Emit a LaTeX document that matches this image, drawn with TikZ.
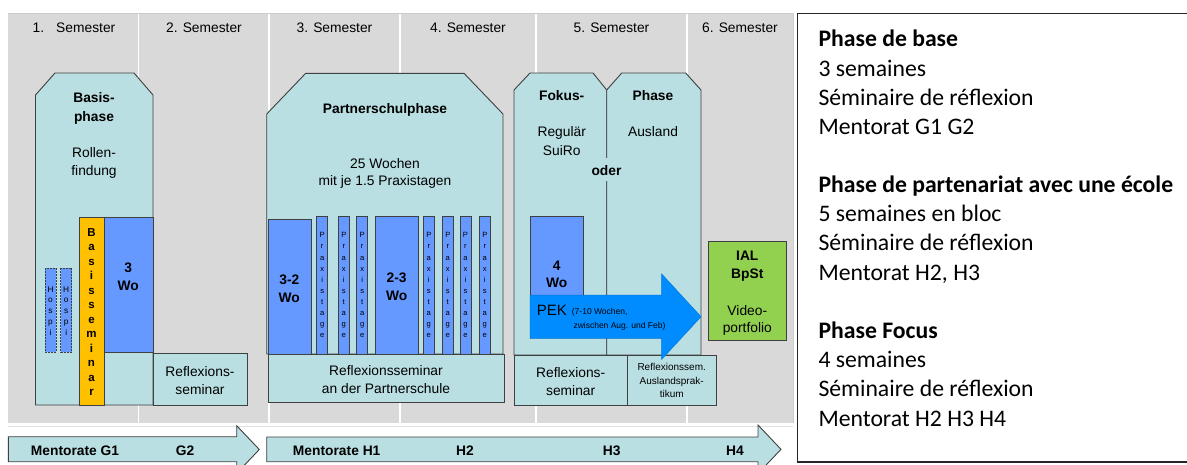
\documentclass[tikz,border=0pt]{standalone}
\usepackage{fontspec}
\setmainfont{Liberation Sans}
\newfontfamily\calfont{Carlito}
\definecolor{bgc}{HTML}{D9D9D9}
\definecolor{cyanc}{HTML}{B9DFE2}
\definecolor{bluec}{HTML}{6699FF}
\definecolor{orc}{HTML}{FFC000}
\definecolor{pekc}{HTML}{008CFF}
\definecolor{grc}{HTML}{92D050}
\definecolor{bord}{HTML}{404040}
\begin{document}
\begin{tikzpicture}[x=1pt,y=-1pt,
  bd/.style={draw=bord, line width=0.9pt},
  cy/.style={bd, fill=cyanc},
  bl/.style={bd, fill=bluec},
  hosp/.style={draw=bord, line width=0.8pt, dashed, dash pattern=on 2pt off 1pt, fill=bluec},
  txt/.style={inner sep=0pt, anchor=base, font=\fontsize{13.8}{16}\selectfont},
  btxt/.style={inner sep=0pt, anchor=base, font=\fontsize{13.8}{16}\selectfont\bfseries},
  ltr/.style={inner sep=0pt, anchor=base, font=\fontsize{7.6}{9}\selectfont},
  hltr/.style={inner sep=0pt, anchor=base, font=\fontsize{8.3}{9}\selectfont},
  bltr/.style={inner sep=0pt, anchor=base, font=\fontsize{11.5}{13}\selectfont\bfseries},
  rtxt/.style={inner sep=0pt, anchor=base west, font=\calfont\fontsize{23.7}{28}\selectfont},
  rbtxt/.style={inner sep=0pt, anchor=base west, font=\calfont\fontsize{23.7}{28}\selectfont\bfseries},
  sep/.style={draw=white, line width=1.3pt}]
\clip (0,0) rectangle (1187,464);
\fill[white] (0,0) rectangle (1187,464);
% background
\fill[bgc] (8,14) rectangle (793,423);
\draw[draw=black!20, line width=0.8pt] (8,13.5) -- (793,13.5) -- (793,423);
\draw[draw=black!12, line width=0.8pt] (8,426) -- (793,426);
\foreach \x in {138.5,269,400,536,687} \draw[sep] (\x,14) -- (\x,423);
% semester labels
\node[txt] (s1) at (74,32.7) {1.\hspace{12pt}Semester};
\node[txt] (s2) at (204,32.7) {2. Semester};
\node[txt] (s3) at (334.5,32.7) {3. Semester};
\node[txt] (s4) at (468,32.7) {4. Semester};
\node[txt] (s5) at (611.5,32.7) {5. Semester};
\node[txt] (s6) at (740,32.7) {6. Semester};
% ---------- Basisphase
\draw[cy] (35.5,95) -- (55,73) -- (134,73) -- (153,95) -- (153,405) -- (35.5,405) -- cycle;
\draw[bd, fill=orc] (79,217) rectangle (104,405);
\draw[bl] (104,217) rectangle (153,352);
\draw[cy] (153,353) rectangle (247,405);
\draw[hosp] (45,268) rectangle (56,352);
\draw[hosp] (60.7,268) rectangle (71.7,352);
\node[btxt] (bp1) at (94,102.7) {Basis-};
\node[btxt] (bp2) at (94,121) {phase};
\node[txt] (rf1) at (94,157.7) {Rollen-};
\node[txt] (rf2) at (94,175.5) {findung};
\foreach \c [count=\k] in {H,o,s,p,i}{
  \node[hltr] (ha\k) at (50.5,292+\k*10.9-10.9) {\c};
  \node[hltr] (hb\k) at (66.2,292+\k*10.9-10.9) {\c};
}
\foreach \c [count=\k] in {B,a,s,i,s,s,e,m,i,n,a,r}
  \node[bltr] (bs\k) at (91.5,236+\k*14.5-14.5) {\c};
\node[btxt] (w31) at (128.3,272.3) {3};
\node[btxt] (w32) at (128.3,290.7) {Wo};
\node[txt] (rb1) at (200,376) {Reflexions-};
\node[txt] (rb2) at (200,394) {seminar};
% ---------- Partnerschulphase
\draw[cy] (266.7,114) -- (305.7,73.3) -- (464,73.3) -- (503,114) -- (503,354) -- (266.7,354) -- cycle;
\draw[cy] (268,354) rectangle (504,402);
\draw[bl] (268,219) rectangle (311,354);
\draw[bl] (375.3,216) rectangle (418.7,354);
\foreach \x [count=\i] in {316.7,338.3,356.7,423.3,442.3,460,479.3}{
  \draw[bl] (\x,216) rectangle ++(11,138);
  \foreach \c [count=\k] in {P,r,a,x,i,s,t,a,g,e}
    \node[ltr] (pt\i-\k) at (\x+5.5,237.8+\k*11.1-11.1) {\c};
}
\node[btxt] (ps) at (385,113.3) {Partnerschulphase};
\node[txt] (pw1) at (385,168.3) {25 Wochen};
\node[txt] (pw2) at (385,185.7) {mit je 1.5 Praxistagen};
\node[btxt] (w321) at (289.3,284) {3-2};
\node[btxt] (w322) at (289.3,302.3) {Wo};
\node[btxt] (w231) at (396.7,282.7) {2-3};
\node[btxt] (w232) at (396.7,300.7) {Wo};
\node[txt] (rp1) at (386,375.7) {Reflexionsseminar};
\node[txt] (rp2) at (386,393.3) {an der Partnerschule};
% ---------- Fokusphase
\draw[cy] (514,90) -- (530,73) -- (593,73) -- (606.7,90) -- (606.7,355) -- (514,355) -- cycle;
\draw[cy] (606.7,90) -- (621.7,73) -- (685.7,73) -- (701,90) -- (701,355) -- (606.7,355) -- cycle;
\fill[cyanc] (600,158) rectangle (613,181);
\node[btxt] (oder) at (606.5,175) {oder};
\draw[cy] (514,355) rectangle (627.7,405);
\draw[cy] (627.7,355) rectangle (716,405);
\draw[bl] (530,216.7) rectangle (583.3,295);
\draw[draw=pekc!85!black, line width=0.5pt, fill=pekc] (530,295) -- (661.7,295) -- (661.7,274) -- (701,316.7) -- (661.7,359.3) -- (661.7,338.3) -- (530,338.3) -- cycle;
\draw[bd, fill=grc] (708.3,241.7) rectangle (786.7,340.7);
\node[btxt] (fk) at (561.7,100.7) {Fokus-};
\node[btxt] (ph) at (653,100.7) {Phase};
\node[txt] (rg1) at (561.7,136.7) {Regulär};
\node[txt] (rg2) at (561.7,155) {SuiRo};
\node[txt] (al) at (653,136.7) {Ausland};
\node[btxt] (w41) at (556.7,270) {4};
\node[btxt] (w42) at (556.7,287.7) {Wo};
\node[inner sep=0pt, anchor=base west, font=\fontsize{15}{17}\selectfont] (pek) at (536.7,315) {PEK};
\node[inner sep=0pt, anchor=base west, font=\fontsize{8.5}{10}\selectfont] (pk1) at (571.7,314.3) {(7-10 Wochen,};
\node[inner sep=0pt, anchor=base west, font=\fontsize{8.5}{10}\selectfont] (pk2) at (573.3,328.3) {zwischen Aug. und Feb)};
\node[txt] (rf3) at (570.7,377.3) {Reflexions-};
\node[txt] (rf4) at (570.7,395) {seminar};
\node[inner sep=0pt, anchor=base, font=\fontsize{10}{12}\selectfont] (ra1) at (671.7,370.7) {Reflexionssem.};
\node[inner sep=0pt, anchor=base, font=\fontsize{10}{12}\selectfont] (ra2) at (671.7,384.5) {Auslandsprak-};
\node[inner sep=0pt, anchor=base, font=\fontsize{10}{12}\selectfont] (ra3) at (671.7,397) {tikum};
\node[btxt] (ial1) at (747.3,260) {IAL};
\node[btxt] (ial2) at (747.3,278.3) {BpSt};
\node[txt] (vp1) at (747.3,315) {Video-};
\node[txt] (vp2) at (747.3,332.3) {portfolio};
% ---------- Mentorate arrows
\draw[cy] (8.3,436.7) -- (236.7,436.7) -- (236.7,425.7) -- (259.3,449.5) -- (236.7,473.3) -- (236.7,461.7) -- (8.3,461.7) -- cycle;
\draw[cy] (266.7,437) -- (758,437) -- (758,425) -- (781,449.3) -- (758,473.6) -- (758,461.7) -- (266.7,461.7) -- cycle;
\node[btxt] (mg1) at (75,455) {Mentorate G1};
\node[btxt] (mg2) at (185,455) {G2};
\node[btxt] (mh1) at (336.7,455) {Mentorate H1};
\node[btxt] (mh2) at (465,455) {H2};
\node[btxt] (mh3) at (611.7,455) {H3};
\node[btxt] (mh4) at (735,455) {H4};
% ---------- right text box
\draw[draw=black!85, line width=1.1pt] (797.3,13.3) -- (797.3,462) -- (1195,462);
\draw[draw=black!85, line width=1.1pt] (797.3,13.3) -- (1195,13.3);
\node[rbtxt] (t1) at (818.3,46.7) {Phase de base};
\node[rtxt] (t2) at (818.3,76) {3 semaines};
\node[rtxt] (t3) at (818.3,105.4) {Séminaire de réflexion};
\node[rtxt] (t4) at (818.3,134.7) {Mentorat G1 G2};
\node[rbtxt] (t5) at (818.3,192.7) {Phase de partenariat avec une école};
\node[rtxt] (t6) at (818.3,221.7) {5 semaines en bloc};
\node[rtxt] (t7) at (818.3,250.9) {Séminaire de réflexion};
\node[rtxt] (t8) at (818.3,280) {Mentorat H2, H3};
\node[rbtxt] (t9) at (818.3,338.3) {Phase Focus};
\node[rtxt] (t10) at (818.3,367.6) {4 semaines};
\node[rtxt] (t11) at (818.3,396.8) {Séminaire de réflexion};
\node[rtxt] (t12) at (818.3,426) {Mentorat H2 H3 H4};
\end{tikzpicture}
\end{document}
